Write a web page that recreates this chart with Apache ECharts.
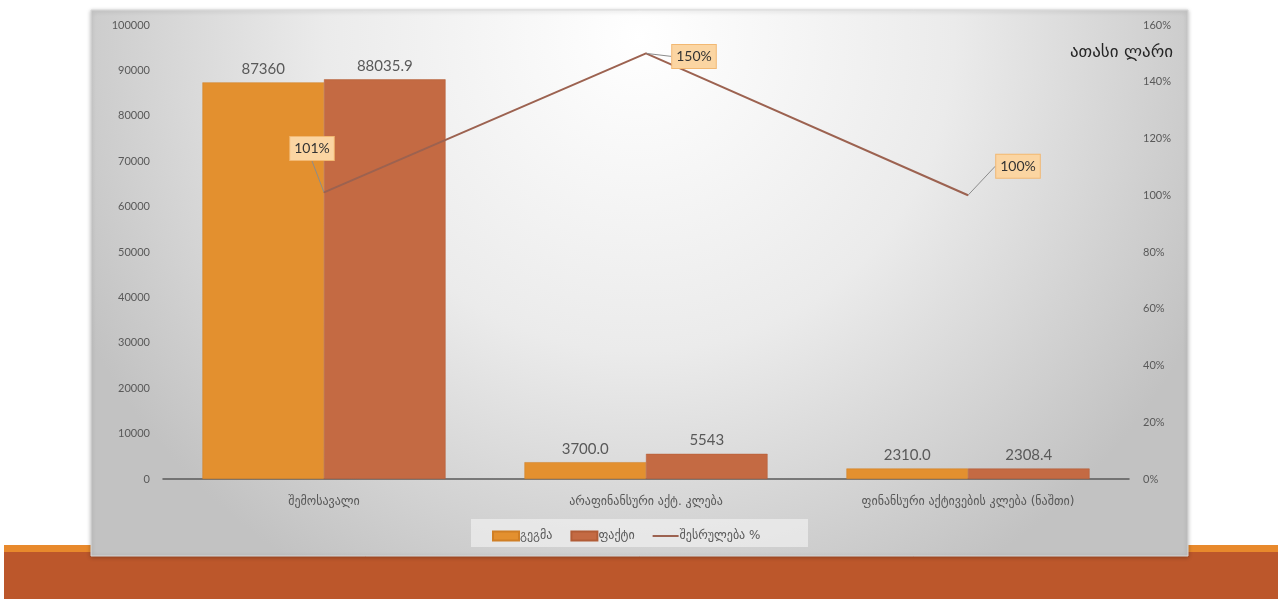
<!DOCTYPE html>
<html><head><meta charset="utf-8">
<script src="https://cdn.jsdelivr.net/npm/echarts@6/dist/echarts.min.js"></script>
<style>html,body{margin:0;padding:0;background:#fff}#c{width:1278px;height:599px}</style>
</head><body><div id="c"></div>
<script>
const categories = ['შემოსავალი', 'არაფინანსური აქტ. კლება', 'ფინანსური აქტივების კლება (ნაშთი)'];
const planValues = [87360, 3700.0, 2310.0];
const planLabels = ['87360', '3700.0', '2310.0'];
const factValues = [88035.9, 5543, 2308.4];
const factLabels = ['88035.9', '5543', '2308.4'];
const percentValues = [101, 150, 100];
const seriesNames = ['გეგმა', 'ფაქტი', 'შესრულება %'];
const unitTitle = 'ათასი ლარი';

const FONT = "Lato, 'DejaVu Sans', sans-serif";
const labelOffsets = [[-12, -44], [48, 3], [50, -29]];

const chart = echarts.init(document.getElementById('c'));
chart.setOption({
  animation: false,
  textStyle: { fontFamily: FONT },
  graphic: [
    { type: 'rect', z: -20, silent: true, shape: { x: 4, y: 545, width: 1274, height: 54 },
      style: { fill: '#BC572B' } },
    { type: 'rect', z: -19, silent: true, shape: { x: 4, y: 545, width: 1274, height: 7 },
      style: { fill: '#E8892C' } },
    { type: 'rect', z: -18, silent: true, shape: { x: 91, y: 10, width: 1097, height: 546 },
      style: {
        fill: { type: 'radial', x: 0.5, y: 0.05, r: 1.15,
          colorStops: [{ offset: 0, color: '#ffffff' }, { offset: 0.5, color: '#ebebeb' }, { offset: 1, color: '#c2c2c2' }] },
        stroke: '#d9d9d9', lineWidth: 1,
        shadowBlur: 4, shadowColor: 'rgba(0,0,0,0.25)', shadowOffsetY: 1
      } },
    { type: 'rect', z: -17, silent: true, shape: { x: 471, y: 519, width: 337, height: 28 },
      style: { fill: 'rgba(245,245,245,0.6)' } },
    { type: 'text', z: 10, style: { text: unitTitle, x: 1173, y: 53, align: 'right', verticalAlign: 'middle',
      fontSize: 17, fontFamily: "'DejaVu Sans', sans-serif", fill: '#262626' } }
  ],
  legend: {
    data: [
      { name: seriesNames[0], icon: 'rect' },
      { name: seriesNames[1], icon: 'rect' },
      { name: seriesNames[2], icon: 'path://M0,0M0,3.5L26,3.5L26,5.5L0,5.5ZM26,9' }
    ],
    left: 487, top: 525,
    itemWidth: 26, itemHeight: 9, itemGap: 18,
    textStyle: { color: '#595959', fontSize: 12, fontFamily: "'DejaVu Sans', sans-serif", padding: [0, 0, 0, -4] }
  },
  grid: { left: 163, right: 149, top: 25, bottom: 120 },
  xAxis: {
    type: 'category', data: categories,
    axisLine: { lineStyle: { color: '#595959', width: 1.5 } },
    axisTick: { show: false },
    axisLabel: { color: '#595959', fontSize: 12, margin: 17, fontFamily: "'DejaVu Sans', sans-serif" }
  },
  yAxis: [
    { type: 'value', min: 0, max: 100000, interval: 10000,
      splitLine: { show: false }, axisLine: { show: false }, axisTick: { show: false },
      axisLabel: { color: '#595959', fontSize: 11, margin: 13, formatter: v => String(v) } },
    { type: 'value', min: 0, max: 160, interval: 20, position: 'right',
      splitLine: { show: false }, axisLine: { show: false }, axisTick: { show: false },
      axisLabel: { color: '#595959', fontSize: 11, margin: 14, formatter: v => v + '%' } }
  ],
  series: [
    { name: seriesNames[0], type: 'bar', data: planValues, barGap: '0%', barCategoryGap: '24.5%',
      itemStyle: { color: '#E3902F', borderColor: '#D07F25', borderWidth: 0.5 },
      label: { show: true, position: 'top', color: '#595959', fontSize: 15, distance: 6,
        formatter: p => planLabels[p.dataIndex] } },
    { name: seriesNames[1], type: 'bar', data: factValues,
      itemStyle: { color: '#C46A43', borderColor: '#B25C36', borderWidth: 0.5 },
      label: { show: true, position: 'top', color: '#595959', fontSize: 15, distance: 6,
        formatter: p => factLabels[p.dataIndex] } },
    { name: seriesNames[2], type: 'line', yAxisIndex: 1, data: percentValues,
      symbol: 'circle', symbolSize: 1, showSymbol: true,
      lineStyle: { color: '#9C6250', width: 2 },
      itemStyle: { color: '#9C6250' },
      label: { show: true, position: 'inside', formatter: p => p.value + '%',
        color: '#333', fontSize: 14, backgroundColor: '#FBD5A2', borderColor: '#F2B872', borderWidth: 1,
        padding: [5, 4, 4, 4] },
      labelLine: { show: true, lineStyle: { color: '#8c8c8c', width: 1 } },
      labelLayout: p => ({ dx: labelOffsets[p.dataIndex][0], dy: labelOffsets[p.dataIndex][1] }) }
  ]
});
</script></body></html>
